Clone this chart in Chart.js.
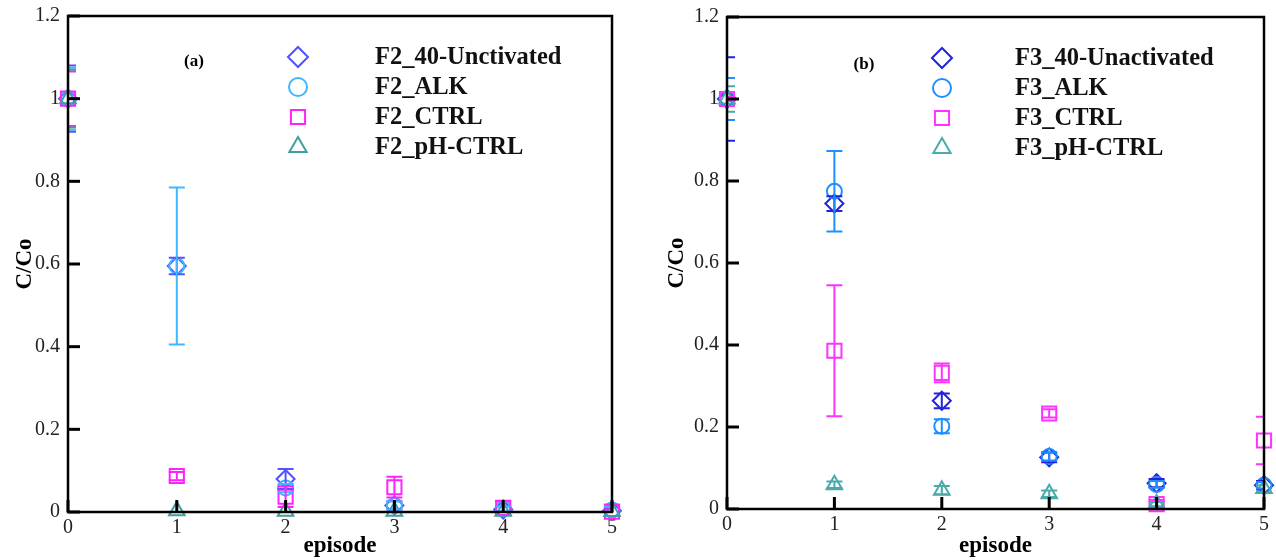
<!DOCTYPE html>
<html>
<head>
<meta charset="utf-8">
<script src="https://cdn.jsdelivr.net/npm/chart.js@4.4.0/dist/chart.umd.min.js"></script>
<style>
  html, body { margin: 0; padding: 0; background: #fff; }
  .panel { position: absolute; top: 0; width: 638px; height: 560px; }
  #panelA { left: 0; }
  #panelB { left: 638px; }
</style>
</head>
<body>
<div class="panel" id="panelA"><canvas id="chartA" width="638" height="560"></canvas></div>
<div class="panel" id="panelB"><canvas id="chartB" width="638" height="560"></canvas></div>
<script>
'use strict';

const episodes = [0, 1, 2, 3, 4, 5];
const yTicks = [0, 0.2, 0.4, 0.6, 0.8, 1, 1.2];

// ── F2 filter: mean C/Co per episode and +/- error ───────────────────────────
const f2Labels   = ['F2_40-Unctivated', 'F2_ALK', 'F2_CTRL', 'F2_pH-CTRL'];
const f2Unact    = [1.0, 0.595, 0.080, 0.016, 0.006, 0.003];
const f2UnactErr = [0.080, 0.020, 0.024, 0.010, 0.008, 0.004];
const f2Alk      = [1.0, 0.595, 0.058, 0.016, 0.008, 0.005];
const f2AlkErr   = [0.075, 0.190, 0.010, 0.010, 0.006, 0.008];
const f2Ctrl     = [1.0, 0.087, 0.037, 0.060, 0.010, 0.001];
const f2CtrlErr  = [0.066, 0.010, 0.025, 0.025, 0.016, 0.005];
const f2Ph       = [1.0, 0.003, 0.002, 0.002, 0.002, 0.001];
const f2PhErr    = [0.070, 0, 0, 0, 0, 0];

// ── F3 filter ────────────────────────────────────────────────────────────────
const f3Labels   = ['F3_40-Unactivated', 'F3_ALK', 'F3_CTRL', 'F3_pH-CTRL'];
const f3Unact    = [1.0, 0.745, 0.264, 0.126, 0.063, 0.058];
const f3UnactErr = [0.102, 0.018, 0.018, 0.012, 0.010, 0.010];
const f3Alk      = [1.0, 0.775, 0.202, 0.128, 0.060, 0.058];
const f3AlkErr   = [0.051, 0.098, 0.017, 0.010, 0.008, 0.008];
const f3Ctrl     = [1.0, 0.386, 0.332, 0.233, 0.012, 0.167];
const f3CtrlErr  = [0.005, 0.160, 0.023, 0.010, 0.010, 0.058];
const f3Ph       = [1.0, 0.059, 0.046, 0.037, 0.012, 0.050];
const f3PhErr    = [0.031, 0.008, 0.010, 0.008, 0.005, 0.008];

const markerStyles = ['rectRot', 'circle', 'rect', 'triangle'];
const markerSizes  = [9, 7.5, 10, 9];
const legendSizes  = [10, 9, 10, 10];

const colorsA = ['#5252ff', '#3fb6ff', '#ff22ff', '#3f9f9f'];
const colorsB = ['#2323dd', '#1f8fff', '#ff33ff', '#4aabab'];

const SERIF = '"Liberation Serif", "DejaVu Serif", serif';

function makeDatasets(labels, values, errors, colors) {
  return labels.map((label, k) => ({
    label,
    data: episodes.map((ep, i) => ({ x: ep, y: values[k][i] })),
    errors: errors[k],
    pointStyle: markerStyles[k],
    pointRadius: markerSizes[k],
    pointHoverRadius: markerSizes[k],
    borderColor: colors[k],
    backgroundColor: 'rgba(0,0,0,0)',
    pointBorderWidth: 2,
    showLine: false,
    clip: false,
    order: 3 - k,
  }));
}

// ── Plugins ──────────────────────────────────────────────────────────────────

// vertical error bars with caps, clipped to the frame
const errorBars = {
  id: 'errorBars',
  afterDatasetsDraw(chart) {
    const { ctx, chartArea: a, scales: { x, y } } = chart;
    const cap = 8;
    ctx.save();
    ctx.beginPath();
    ctx.rect(a.left, a.top, a.right - a.left, a.bottom - a.top);
    ctx.clip();
    ctx.lineWidth = 2;
    chart.data.datasets.forEach(ds => {
      ctx.strokeStyle = ds.borderColor;
      ds.data.forEach((p, i) => {
        const e = ds.errors[i];
        if (!e) return;
        const px = x.getPixelForValue(p.x);
        const top = y.getPixelForValue(p.y + e);
        const bot = y.getPixelForValue(p.y - e);
        ctx.beginPath();
        ctx.moveTo(px, top); ctx.lineTo(px, bot);
        ctx.moveTo(px - cap, top); ctx.lineTo(px + cap, top);
        ctx.moveTo(px - cap, bot); ctx.lineTo(px + cap, bot);
        ctx.stroke();
      });
    });
    ctx.restore();
  },
};

// black frame with inward major ticks
const frame = {
  id: 'frame',
  afterDatasetsDraw(chart) {
    const { ctx, chartArea: a, scales: { x, y } } = chart;
    ctx.save();
    ctx.strokeStyle = '#000';
    ctx.lineWidth = 3;
    y.ticks.forEach(t => {
      const py = y.getPixelForValue(t.value);
      ctx.beginPath();
      ctx.moveTo(a.left, py); ctx.lineTo(a.left + 12, py);
      ctx.stroke();
    });
    x.ticks.forEach(t => {
      const px = x.getPixelForValue(t.value);
      ctx.beginPath();
      ctx.moveTo(px, a.bottom); ctx.lineTo(px, a.bottom - 12);
      ctx.stroke();
    });
    ctx.lineWidth = 2.5;
    ctx.strokeRect(a.left, a.top, a.right - a.left, a.bottom - a.top);
    ctx.restore();
  },
};

// symbol legend and panel tag inside the frame
const markerLegend = {
  id: 'markerLegend',
  afterDraw(chart, args, opts) {
    const { ctx, chartArea: a } = chart;
    ctx.save();
    ctx.font = `bold 17px ${SERIF}`;
    ctx.fillStyle = '#000';
    ctx.textAlign = 'center';
    ctx.textBaseline = 'middle';
    ctx.fillText(opts.tag, a.left + opts.tagX, opts.tagY);

    ctx.font = `bold 24.5px ${SERIF}`;
    ctx.textAlign = 'left';
    chart.data.datasets.forEach((ds, k) => {
      const yy = opts.top + k * opts.rowGap;
      ctx.strokeStyle = ds.borderColor;
      ctx.fillStyle = 'rgba(0,0,0,0)';
      ctx.lineWidth = 2;
      Chart.helpers.drawPoint(ctx, {
        pointStyle: ds.pointStyle, radius: legendSizes[k], borderWidth: 2, rotation: 0,
      }, a.left + opts.markerX, yy);
      ctx.fillStyle = '#111';
      ctx.fillText(ds.label, a.left + opts.textX, yy + 1);
    });
    ctx.restore();
  },
};

function tickText(v) {
  const r = Math.round(v * 10) / 10;
  return String(r);
}

function makeChart(canvasId, datasets, box, legend) {
  return new Chart(document.getElementById(canvasId), {
    type: 'scatter',
    data: { datasets },
    plugins: [errorBars, frame, markerLegend],
    options: {
      responsive: false,
      animation: false,
      events: [],
      layout: { padding: { top: box.top, right: box.right, bottom: 0, left: 0 } },
      plugins: {
        legend: { display: false },
        tooltip: { enabled: false },
        markerLegend: legend,
      },
      scales: {
        x: {
          type: 'linear',
          min: episodes[0],
          max: episodes[episodes.length - 1],
          afterBuildTicks: s => { s.ticks = episodes.map(v => ({ value: v })); },
          afterFit: s => {
            s.height = box.bottom;
            s.paddingLeft = s.paddingRight = s.paddingTop = s.paddingBottom = 0;
          },
          grid: { display: false, drawTicks: false },
          border: { display: false },
          ticks: {
            padding: 4,
            color: '#222',
            font: { family: SERIF, size: 20 },
            maxRotation: 0,
            callback: v => tickText(v),
          },
          title: {
            display: true,
            text: 'episode',
            color: '#000',
            font: { family: SERIF, size: 23, weight: 'bold' },
            padding: { top: 0, bottom: 0 },
          },
        },
        y: {
          type: 'linear',
          min: yTicks[0],
          max: yTicks[yTicks.length - 1],
          afterBuildTicks: s => { s.ticks = yTicks.map(v => ({ value: v })); },
          afterFit: s => {
            s.width = box.left;
            s.paddingLeft = s.paddingRight = s.paddingTop = s.paddingBottom = 0;
          },
          grid: { display: false, drawTicks: false },
          border: { display: false },
          ticks: {
            padding: 8,
            color: '#222',
            font: { family: SERIF, size: 20 },
            callback: v => tickText(v),
          },
          title: {
            display: true,
            text: 'C/Co',
            color: '#000',
            font: { family: SERIF, size: 23, weight: 'bold' },
            padding: { top: box.titleX - 14, bottom: 0 },
          },
        },
      },
    },
  });
}

makeChart('chartA',
  makeDatasets(f2Labels,
    [f2Unact, f2Alk, f2Ctrl, f2Ph],
    [f2UnactErr, f2AlkErr, f2CtrlErr, f2PhErr],
    colorsA),
  { top: 16, right: 26, bottom: 48, left: 68, titleX: 25 },
  { tag: '(a)', tagX: 126, tagY: 62, markerX: 230, textX: 307, top: 57, rowGap: 30 });

makeChart('chartB',
  makeDatasets(f3Labels,
    [f3Unact, f3Alk, f3Ctrl, f3Ph],
    [f3UnactErr, f3AlkErr, f3CtrlErr, f3PhErr],
    colorsB),
  { top: 17, right: 9, bottom: 51, left: 89, titleX: 39 },
  { tag: '(b)', tagX: 137, tagY: 65, markerX: 215, textX: 288, top: 58, rowGap: 30 });
</script>
</body>
</html>
